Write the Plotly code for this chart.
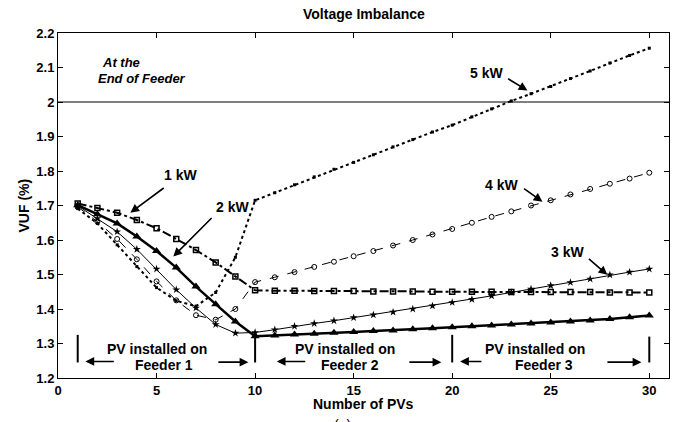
import plotly.graph_objects as go

# ---- data ----
num_pvs = [1, 2, 3, 4, 5, 6, 7, 8, 9, 10, 11, 12, 13, 14, 15, 16, 17, 18, 19, 20,
           21, 22, 23, 24, 25, 26, 27, 28, 29, 30]
vuf_1kw = [1.706, 1.693, 1.679, 1.658, 1.634, 1.603, 1.571, 1.535, 1.494, 1.454,
           1.453, 1.453, 1.452, 1.452, 1.452, 1.451, 1.451, 1.451, 1.450, 1.450,
           1.450, 1.450, 1.449, 1.449, 1.449, 1.449, 1.449, 1.448, 1.448, 1.448]
vuf_2kw = [1.701, 1.675, 1.648, 1.610, 1.568, 1.520, 1.465, 1.414, 1.364, 1.321,
           1.323, 1.326, 1.328, 1.331, 1.333, 1.336, 1.338, 1.341, 1.344, 1.347,
           1.350, 1.352, 1.355, 1.358, 1.361, 1.364, 1.367, 1.371, 1.376, 1.381]
vuf_3kw = [1.699, 1.662, 1.624, 1.573, 1.516, 1.456, 1.403, 1.355, 1.330, 1.332,
           1.340, 1.350, 1.358, 1.366, 1.375, 1.383, 1.391, 1.400, 1.409, 1.419,
           1.428, 1.438, 1.448, 1.458, 1.468, 1.477, 1.487, 1.499, 1.507, 1.516]
vuf_4kw = [1.696, 1.653, 1.603, 1.544, 1.480, 1.425, 1.382, 1.369, 1.400, 1.478,
           1.492, 1.507, 1.522, 1.537, 1.553, 1.568, 1.584, 1.600, 1.616, 1.632,
           1.650, 1.667, 1.683, 1.700, 1.715, 1.732, 1.748, 1.763, 1.778, 1.795]
vuf_5kw = [1.691, 1.648, 1.586, 1.523, 1.462, 1.424, 1.408, 1.448, 1.550, 1.715,
           1.737, 1.760, 1.783, 1.805, 1.825, 1.847, 1.870, 1.891, 1.913, 1.933,
           1.957, 1.980, 2.003, 2.024, 2.045, 2.068, 2.090, 2.113, 2.135, 2.156]
x_ticks = [0, 5, 10, 15, 20, 25, 30]
y_ticks = [1.2, 1.3, 1.4, 1.5, 1.6, 1.7, 1.8, 1.9, 2.0, 2.1, 2.2]
y_tick_text = ["1.2", "1.3", "1.4", "1.5", "1.6", "1.7", "1.8", "1.9", "2", "2.1", "2.2"]
limit_vuf = 2.0
feeder_bounds = [1, 10, 20, 30]

FONT = "Liberation Sans, Arial, sans-serif"
BLACK = "black"

fig = go.Figure()

fig.add_trace(go.Scatter(x=num_pvs, y=vuf_5kw, mode="lines+markers", name="5 kW",
                         line=dict(color=BLACK, width=2, dash="dot"),
                         marker=dict(symbol="square", size=3, color=BLACK)))
fig.add_trace(go.Scatter(x=num_pvs, y=vuf_4kw, mode="lines+markers", name="4 kW",
                         line=dict(color=BLACK, width=1, dash="dash"),
                         marker=dict(symbol="circle-open", size=5, color=BLACK,
                                     line=dict(width=1, color=BLACK))))
fig.add_trace(go.Scatter(x=num_pvs, y=vuf_3kw, mode="lines+markers", name="3 kW",
                         line=dict(color=BLACK, width=1),
                         marker=dict(symbol="star", size=6, color=BLACK)))
fig.add_trace(go.Scatter(x=num_pvs, y=vuf_1kw, mode="lines+markers", name="1 kW",
                         line=dict(color=BLACK, width=2, dash="dashdot"),
                         marker=dict(symbol="square-open", size=5, color=BLACK,
                                     line=dict(width=1.5, color=BLACK))))
fig.add_trace(go.Scatter(x=num_pvs, y=vuf_2kw, mode="lines+markers", name="2 kW",
                         line=dict(color=BLACK, width=2.5),
                         marker=dict(symbol="triangle-up", size=8, color=BLACK)))

shapes = [dict(type="line", xref="x", yref="y", x0=0, x1=31, y0=limit_vuf, y1=limit_vuf,
               line=dict(color=BLACK, width=1))]
bar_tops = [1.325, 1.32, 1.325, 1.32]
for xb, yt in zip(feeder_bounds, bar_tops):
    shapes.append(dict(type="line", xref="x", yref="y", x0=xb, x1=xb, y0=1.245, y1=yt,
                       line=dict(color=BLACK, width=2)))

annotations = []


def text(x, y, s, size=14, italic=False, xanchor="center"):
    annotations.append(dict(x=x, y=y, xref="x", yref="y", text=s, showarrow=False,
                            xanchor=xanchor, yanchor="middle",
                            font=dict(family=FONT, size=size, color=BLACK, weight="bold",
                                      style="italic" if italic else "normal")))


def arrow(tx, ty, hx, hy):
    annotations.append(dict(x=hx, y=hy, ax=tx, ay=ty, xref="x", yref="y", axref="x", ayref="y",
                            text="", showarrow=True, arrowhead=2, arrowsize=1.1,
                            arrowwidth=1.6, arrowcolor=BLACK))


# series labels
text(6.2, 1.789, "1 kW")
arrow(5.44, 1.754, 3.67, 1.679)
text(8.85, 1.696, "2 kW")
arrow(7.87, 1.668, 5.85, 1.552)
text(21.75, 2.085, "5 kW")
arrow(22.76, 2.070, 23.82, 2.033)
text(22.5, 1.760, "4 kW")
arrow(23.57, 1.752, 24.58, 1.711)
text(25.85, 1.566, "3 kW")
arrow(26.86, 1.549, 27.87, 1.499)

# end of feeder note
text(2.15, 2.114, "At the", size=13, italic=True, xanchor="left")
text(1.95, 2.068, "End of Feeder", size=13, italic=True, xanchor="left")

# feeder region labels
text(5.02, 1.284, "PV installed on")
text(5.36, 1.237, "Feeder 1")
arrow(2.91, 1.248, 1.39, 1.248)
arrow(8.06, 1.246, 9.66, 1.246)
text(14.56, 1.284, "PV installed on")
text(14.81, 1.237, "Feeder 2")
arrow(12.62, 1.248, 11.1, 1.248)
arrow(17.75, 1.246, 19.45, 1.246)
text(24.2, 1.284, "PV installed on")
text(24.68, 1.237, "Feeder 3")
arrow(21.56, 1.248, 20.4, 1.248)
arrow(27.8, 1.246, 29.6, 1.246)

# titles
annotations.append(dict(x=0.5, y=1, xref="paper", yref="paper", yshift=9, text="Voltage Imbalance",
                        showarrow=False, xanchor="center", yanchor="bottom",
                        font=dict(family=FONT, size=14, color=BLACK, weight="bold")))
annotations.append(dict(x=0.5, y=0, xref="paper", yref="paper", yshift=-26, text="Number of PVs",
                        showarrow=False, xanchor="center", yanchor="middle",
                        font=dict(family=FONT, size=14, color=BLACK, weight="bold")))
annotations.append(dict(x=0, y=0.5, xref="paper", yref="paper", xshift=-35, text="VUF (%)",
                        showarrow=False, xanchor="center", yanchor="middle", textangle=-90,
                        font=dict(family=FONT, size=14, color=BLACK, weight="bold")))
annotations.append(dict(x=0.465, y=0, xref="paper", yref="paper", yshift=-37, text="(a)",
                        showarrow=False, xanchor="center", yanchor="top",
                        font=dict(family=FONT, size=14, color=BLACK)))

axis_common = dict(showgrid=False, zeroline=False, showline=True, linecolor=BLACK, linewidth=1,
                   mirror="ticks", ticks="inside", ticklen=5, tickcolor=BLACK, tickwidth=1,
                   tickfont=dict(family=FONT, size=13, color=BLACK, weight="bold"))

fig.update_layout(
    width=682, height=422,
    margin=dict(l=58, r=13, t=33, b=44),
    paper_bgcolor="white", plot_bgcolor="white",
    showlegend=False,
    shapes=shapes,
    annotations=annotations,
    xaxis=dict(range=[0, 31], tickvals=x_ticks, **axis_common),
    yaxis=dict(range=[1.2, 2.2], tickvals=y_ticks, ticktext=y_tick_text, **axis_common),
)

fig.write_html("out.html", config={"displayModeBar": False},
               post_script="document.body.style.margin='0';document.body.style.overflow='hidden';")
